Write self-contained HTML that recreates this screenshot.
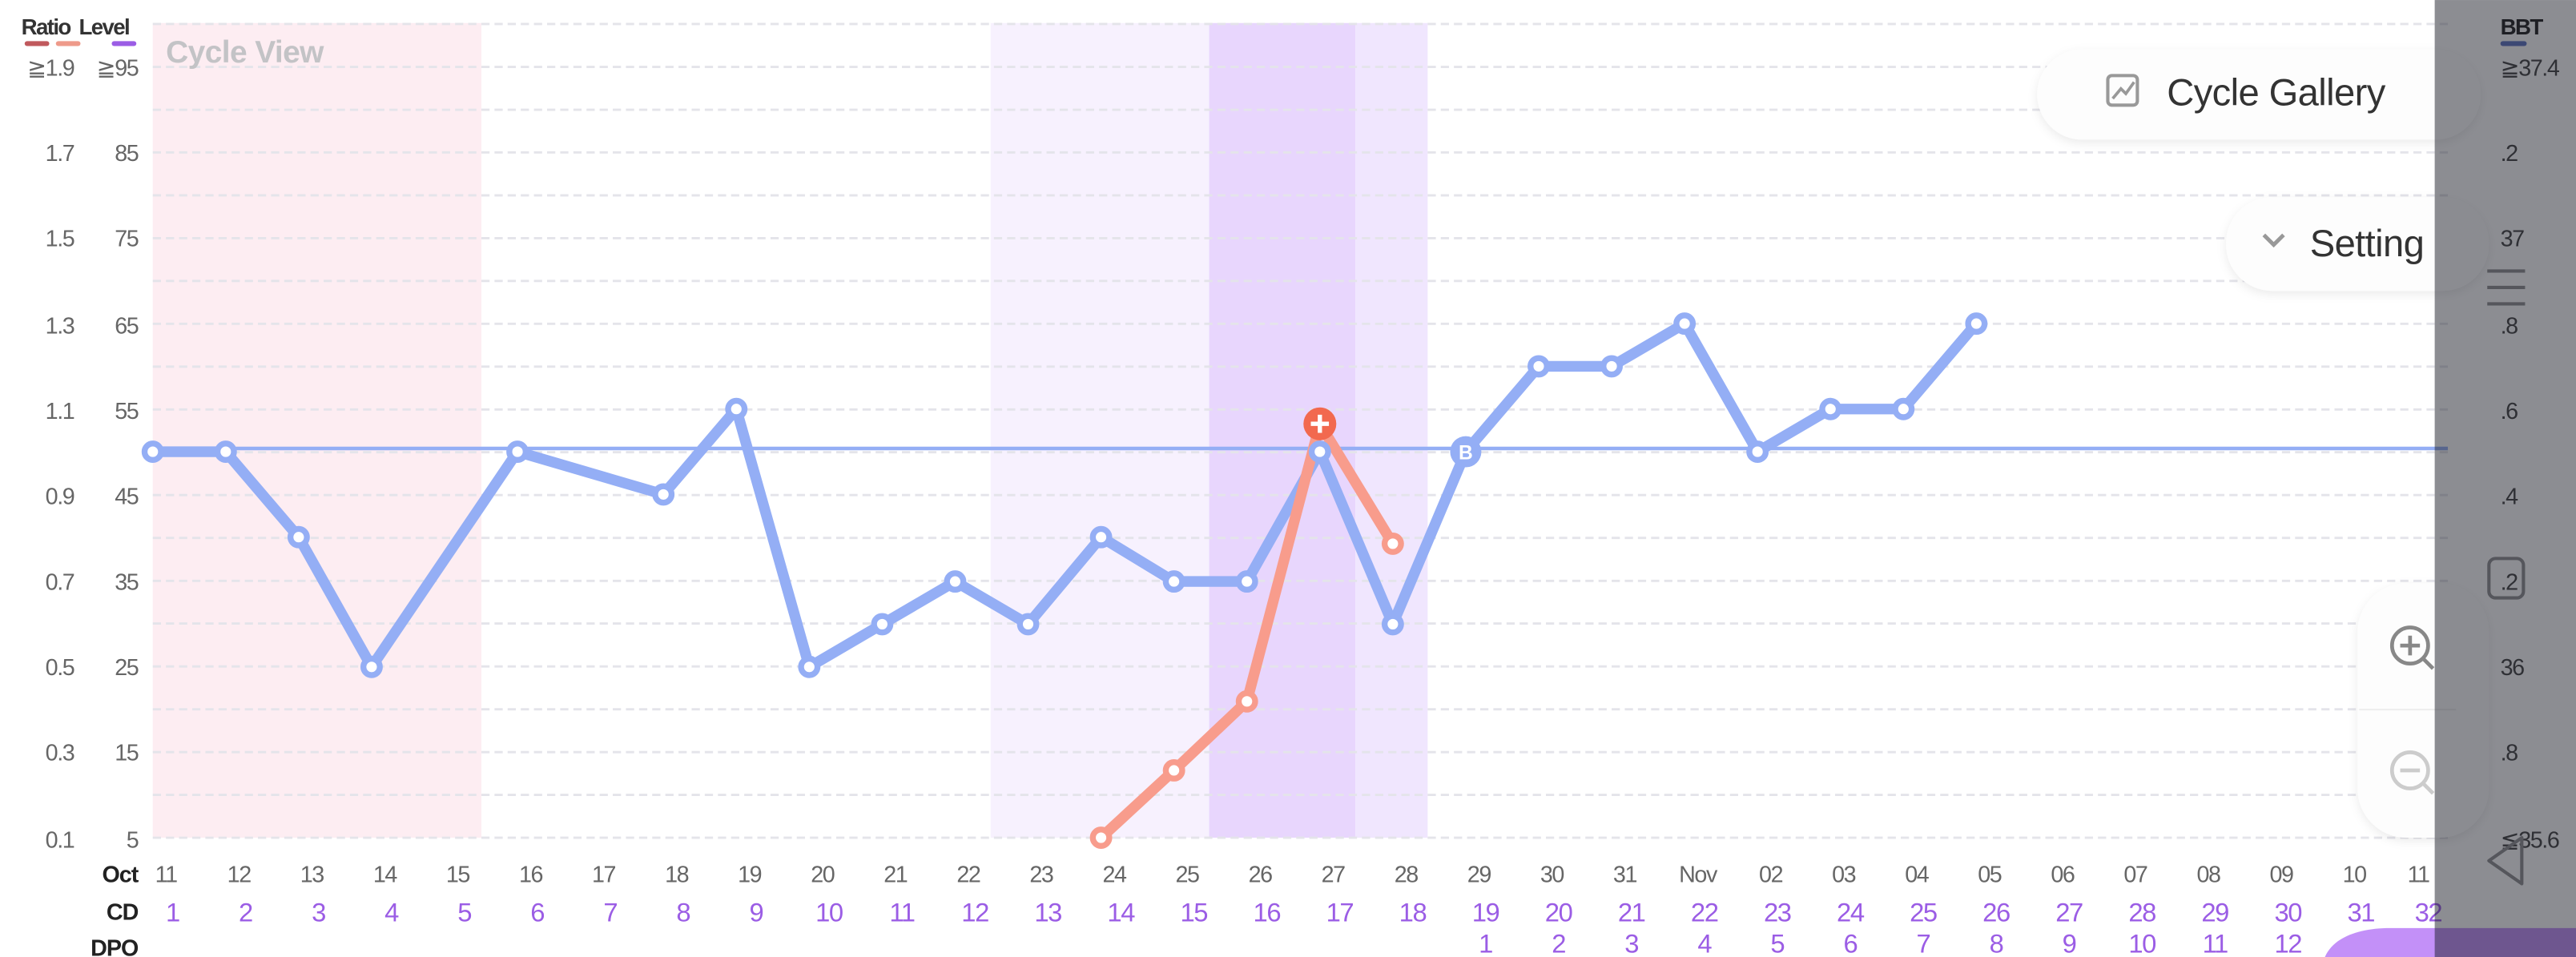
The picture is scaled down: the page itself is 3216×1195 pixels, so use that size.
<!DOCTYPE html>
<html><head><meta charset="utf-8"><style>
html,body{margin:0;padding:0;background:#fff;overflow:hidden}
svg{display:block}
text{font-family:"Liberation Sans",sans-serif}
</style></head><body>
<svg width="3216" height="1195" viewBox="0 0 1568 582.6" xmlns="http://www.w3.org/2000/svg">
<defs>
<filter id="sh" x="-20%" y="-40%" width="140%" height="180%"><feDropShadow dx="0" dy="2" stdDeviation="3" flood-color="#000" flood-opacity="0.08"/></filter>
</defs>
<rect width="1568" height="583" fill="#fff"/>
<rect x="93" y="14" width="200" height="496" fill="#fdedf2"/>
<rect x="603" y="14" width="133" height="496" fill="#f7f1fe"/>
<rect x="736" y="14" width="89" height="496" fill="#e8d6fd"/>
<rect x="825" y="14" width="44" height="496" fill="#f0e6fe"/>
<g stroke="#e4e4ea" stroke-width="1.4" stroke-dasharray="5,3">
<line x1="93" x2="1490" y1="14.6" y2="14.6"/><line x1="93" x2="1490" y1="40.7" y2="40.7"/><line x1="93" x2="1490" y1="66.8" y2="66.8"/><line x1="93" x2="1490" y1="92.8" y2="92.8"/><line x1="93" x2="1490" y1="118.9" y2="118.9"/><line x1="93" x2="1490" y1="145" y2="145"/><line x1="93" x2="1490" y1="171" y2="171"/><line x1="93" x2="1490" y1="197.1" y2="197.1"/><line x1="93" x2="1490" y1="223.2" y2="223.2"/><line x1="93" x2="1490" y1="249.3" y2="249.3"/><line x1="93" x2="1490" y1="275.3" y2="275.3"/><line x1="93" x2="1490" y1="301.4" y2="301.4"/><line x1="93" x2="1490" y1="327.5" y2="327.5"/><line x1="93" x2="1490" y1="353.6" y2="353.6"/><line x1="93" x2="1490" y1="379.6" y2="379.6"/><line x1="93" x2="1490" y1="405.7" y2="405.7"/><line x1="93" x2="1490" y1="431.8" y2="431.8"/><line x1="93" x2="1490" y1="457.9" y2="457.9"/><line x1="93" x2="1490" y1="483.9" y2="483.9"/><line x1="93" x2="1490" y1="510" y2="510"/>
</g>
<text x="101" y="38" font-size="19" font-weight="bold" fill="#c3c3c6" letter-spacing="-0.3">Cycle View</text>
<text x="13" y="21" font-size="13.5" font-weight="bold" fill="#333" letter-spacing="-0.8">Ratio</text>
<text x="48" y="21" font-size="13.5" font-weight="bold" fill="#333" letter-spacing="-0.8">Level</text>
<rect x="15" y="25" width="15" height="3" rx="1.5" fill="#c0595d"/>
<rect x="34" y="25" width="15" height="3" rx="1.5" fill="#ee9a8a"/>
<rect x="68" y="25" width="15" height="3" rx="1.5" fill="#9b5de5"/>
<g font-size="14" fill="#666" text-anchor="end" letter-spacing="-0.7">
<text x="45" y="46">≧1.9</text><text x="84" y="46">≧95</text>
<text x="45" y="98">1.7</text><text x="84" y="98">85</text>
<text x="45" y="150">1.5</text><text x="84" y="150">75</text>
<text x="45" y="203">1.3</text><text x="84" y="203">65</text>
<text x="45" y="255">1.1</text><text x="84" y="255">55</text>
<text x="45" y="307">0.9</text><text x="84" y="307">45</text>
<text x="45" y="359">0.7</text><text x="84" y="359">35</text>
<text x="45" y="411">0.5</text><text x="84" y="411">25</text>
<text x="45" y="463">0.3</text><text x="84" y="463">15</text>
<text x="45" y="516">0.1</text><text x="84" y="516">5</text>
</g>
<line x1="93" x2="1490" y1="273" y2="273" stroke="#94aef5" stroke-width="2.2"/>
<polyline fill="none" stroke="#94aef5" stroke-width="6.5" stroke-linejoin="round" points="93,275 137.4,275 181.8,327 226.2,406 315,275 403.8,301 448.2,249 492.6,406 537,380 581.4,354 625.8,380 670.2,327 714.6,354 759,354 803.4,275 847.8,380 892.2,275 936.6,223 981,223 1025.4,197 1069.8,275 1114.2,249 1158.6,249 1203,197"/>
<polyline fill="none" stroke="#f89c8c" stroke-width="6.5" stroke-linejoin="round" points="670.2,510 714.6,469 759,427 803.4,258 847.8,331"/>
<g fill="#fff" stroke="#94aef5" stroke-width="3.6">
<circle cx="93" cy="275" r="5"/><circle cx="137.4" cy="275" r="5"/><circle cx="181.8" cy="327" r="5"/><circle cx="226.2" cy="406" r="5"/><circle cx="315" cy="275" r="5"/><circle cx="403.8" cy="301" r="5"/><circle cx="448.2" cy="249" r="5"/><circle cx="492.6" cy="406" r="5"/><circle cx="537" cy="380" r="5"/><circle cx="581.4" cy="354" r="5"/><circle cx="625.8" cy="380" r="5"/><circle cx="670.2" cy="327" r="5"/><circle cx="714.6" cy="354" r="5"/><circle cx="759" cy="354" r="5"/><circle cx="803.4" cy="275" r="5"/><circle cx="847.8" cy="380" r="5"/><circle cx="936.6" cy="223" r="5"/><circle cx="981" cy="223" r="5"/><circle cx="1025.4" cy="197" r="5"/><circle cx="1069.8" cy="275" r="5"/><circle cx="1114.2" cy="249" r="5"/><circle cx="1158.6" cy="249" r="5"/><circle cx="1203" cy="197" r="5"/>
</g>
<circle cx="892.2" cy="275" r="9.5" fill="#94aef5"/>
<text x="892.2" y="279.5" font-size="12" font-weight="bold" fill="#fff" text-anchor="middle">B</text>
<g fill="#fff" stroke="#f89c8c" stroke-width="3.6">
<circle cx="670.2" cy="510" r="5"/><circle cx="714.6" cy="469" r="5"/><circle cx="759" cy="427" r="5"/><circle cx="847.8" cy="331" r="5"/>
</g>
<circle cx="803.4" cy="258" r="10" fill="#f2694f"/>
<path d="M803.4 252.5v11M797.9 258h11" stroke="#fff" stroke-width="2.6"/>
<g font-size="14" font-weight="bold" fill="#222" text-anchor="end" letter-spacing="-0.5">
<text x="84" y="537">Oct</text><text x="84" y="560">CD</text><text x="84" y="582">DPO</text>
</g>
<g font-size="14" fill="#666" text-anchor="middle" letter-spacing="-0.7">
<text x="101" y="537">11</text><text x="145.4" y="537">12</text><text x="189.8" y="537">13</text><text x="234.2" y="537">14</text><text x="278.6" y="537">15</text><text x="323" y="537">16</text><text x="367.4" y="537">17</text><text x="411.8" y="537">18</text><text x="456.2" y="537">19</text><text x="500.6" y="537">20</text><text x="545" y="537">21</text><text x="589.4" y="537">22</text><text x="633.8" y="537">23</text><text x="678.2" y="537">24</text><text x="722.6" y="537">25</text><text x="767" y="537">26</text><text x="811.4" y="537">27</text><text x="855.8" y="537">28</text><text x="900.2" y="537">29</text><text x="944.6" y="537">30</text><text x="989" y="537">31</text><text x="1033.4" y="537">Nov</text><text x="1077.8" y="537">02</text><text x="1122.2" y="537">03</text><text x="1166.6" y="537">04</text><text x="1211" y="537">05</text><text x="1255.4" y="537">06</text><text x="1299.8" y="537">07</text><text x="1344.2" y="537">08</text><text x="1388.6" y="537">09</text><text x="1433" y="537">10</text><text x="1472" y="537">11</text>
</g>
<g font-size="16" fill="#9b5de5" text-anchor="middle" letter-spacing="-0.7">
<text x="105" y="561">1</text><text x="149.4" y="561">2</text><text x="193.8" y="561">3</text><text x="238.2" y="561">4</text><text x="282.6" y="561">5</text><text x="327" y="561">6</text><text x="371.4" y="561">7</text><text x="415.8" y="561">8</text><text x="460.2" y="561">9</text><text x="504.6" y="561">10</text><text x="549" y="561">11</text><text x="593.4" y="561">12</text><text x="637.8" y="561">13</text><text x="682.2" y="561">14</text><text x="726.6" y="561">15</text><text x="771" y="561">16</text><text x="815.4" y="561">17</text><text x="859.8" y="561">18</text><text x="904.2" y="561">19</text><text x="948.6" y="561">20</text><text x="993" y="561">21</text><text x="1037.4" y="561">22</text><text x="1081.8" y="561">23</text><text x="1126.2" y="561">24</text><text x="1170.6" y="561">25</text><text x="1215" y="561">26</text><text x="1259.4" y="561">27</text><text x="1303.8" y="561">28</text><text x="1348.2" y="561">29</text><text x="1392.6" y="561">30</text><text x="1437" y="561">31</text><text x="1478" y="561">32</text>
<text x="904.2" y="580">1</text><text x="948.6" y="580">2</text><text x="993" y="580">3</text><text x="1037.4" y="580">4</text><text x="1081.8" y="580">5</text><text x="1126.2" y="580">6</text><text x="1170.6" y="580">7</text><text x="1215" y="580">8</text><text x="1259.4" y="580">9</text><text x="1303.8" y="580">10</text><text x="1348.2" y="580">11</text><text x="1392.6" y="580">12</text>
</g>
<rect x="1240" y="30" width="270" height="55" rx="27.5" fill="#fdfdfd" filter="url(#sh)"/>
<rect x="1283" y="46" width="18" height="18" rx="2.5" fill="none" stroke="#999" stroke-width="2"/>
<path d="M1286 60l5-6 3 3 5-7" fill="none" stroke="#999" stroke-width="1.8"/>
<text x="1319" y="64" font-size="23" fill="#333" letter-spacing="-0.3">Cycle Gallery</text>
<rect x="1355" y="120" width="160" height="57" rx="28" fill="#fdfdfd" filter="url(#sh)"/>
<path d="M1378 143l6 6 6-6" fill="none" stroke="#999" stroke-width="2.4"/>
<text x="1406" y="156" font-size="23" fill="#333" letter-spacing="-0.3">Setting</text>
<rect x="1435" y="355" width="80" height="155" rx="30" fill="#fdfdfd" filter="url(#sh)"/>
<line x1="1436" x2="1495" y1="432" y2="432" stroke="#eee"/>
<circle cx="1467" cy="393" r="11" fill="none" stroke="#888" stroke-width="2.3"/>
<path d="M1467 387v12M1461 393h12M1475 401l6 6" stroke="#888" stroke-width="2.3"/>
<circle cx="1467" cy="469" r="11" fill="none" stroke="#ccc" stroke-width="2.3"/>
<path d="M1461 469h12M1475 477l6 6" stroke="#ccc" stroke-width="2.3"/>
<path d="M1415 583c5-12 20-18 40-18h120v20z" fill="#c390f8"/>
<text x="1522" y="21" font-size="13.5" font-weight="bold" fill="#222" letter-spacing="-0.8">BBT</text>
<rect x="1522" y="25" width="16" height="3" rx="1.5" fill="#5e74c2"/>
<g font-size="14" fill="#444" letter-spacing="-0.7">
<text x="1522" y="46">≧37.4</text><text x="1522" y="98">.2</text><text x="1522" y="150">37</text><text x="1522" y="203">.8</text><text x="1522" y="255">.6</text><text x="1522" y="307">.4</text><text x="1522" y="359">.2</text><text x="1522" y="411">36</text><text x="1522" y="463">.8</text><text x="1522" y="516">≦35.6</text>
</g>
<rect x="1482" y="0" width="86" height="583" fill="rgba(25,27,38,0.5)"/>
<g stroke="#55565c" stroke-width="2" fill="none">
<path d="M1514 165h23M1514 175h23M1514 185h23"/>
<rect x="1515" y="340" width="21" height="24" rx="4"/>
<path d="M1535 510l-20 14 20 14z" stroke-linejoin="round"/>
</g>
</svg>
</body></html>
